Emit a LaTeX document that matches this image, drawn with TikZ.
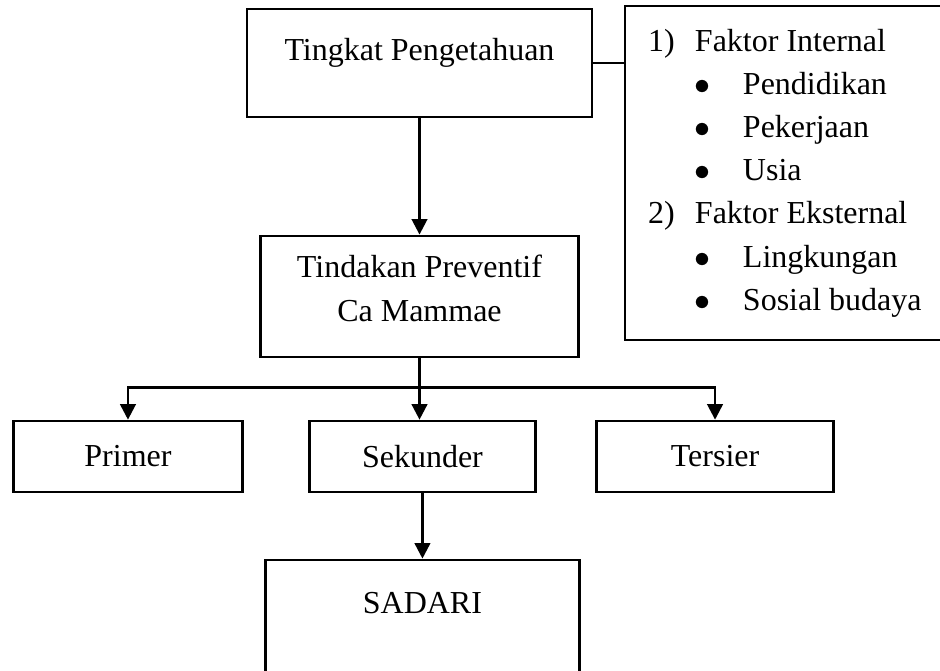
\documentclass[tikz,border=0pt]{standalone}
\usepackage{fontspec}
\setmainfont{Liberation Serif}
\usetikzlibrary{arrows.meta, positioning}

\begin{document}
\begin{tikzpicture}[
  x=0.375pt, y=-0.375pt,
  box/.style={rectangle, draw, line width=1pt, inner sep=0pt, align=center,
              font=\fontsize{12}{16.2}\selectfont},
  arr/.style={-{Triangle[length=5.8pt, width=5.8pt]}, line width=0.95pt},
  link/.style={line width=0.4pt}
]
  \useasboundingbox (0,0) rectangle (940,670);
  \clip (0,0) rectangle (940,670);

  % Top -- knowledge level
  \node[box, minimum width=129.4pt, text height=19.5pt, text depth=21pt] (know) at (419.5,63) {Tingkat Pengetahuan};

  % Right -- influencing factors
  \node[box, align=flush left, text width=108.4pt, inner xsep=8.6pt, minimum height=125.25pt,
        right=11.4pt of know.north east, anchor=north west, yshift=1.1pt] (faktor) {%
    \makebox[17.6pt][l]{1)}Faktor Internal\\
    \hspace*{17.6pt}\makebox[18pt][l]{$\bullet$}Pendidikan\\
    \hspace*{17.6pt}\makebox[18pt][l]{$\bullet$}Pekerjaan\\
    \hspace*{17.6pt}\makebox[18pt][l]{$\bullet$}Usia\\
    \makebox[17.6pt][l]{2)}Faktor Eksternal\\
    \hspace*{17.6pt}\makebox[18pt][l]{$\bullet$}Lingkungan\\
    \hspace*{17.6pt}\makebox[18pt][l]{$\bullet$}Sosial budaya\\[1.5pt]};

  % Middle -- preventive action
  \node[box, minimum width=119.25pt, text height=31.9pt, text depth=13.5pt, below=43.6pt of know] (prev) {Tindakan Preventif\\Ca Mammae};

  % Row -- prevention levels
  \node[box, minimum width=84.75pt, minimum height=26.6pt, below=23pt of prev, xshift=1.1pt] (sekunder) {Sekunder};
  \node[box, minimum width=85.9pt, minimum height=26.6pt, left=24.1pt of sekunder] (primer) {Primer};
  \node[box, minimum width=88.9pt, minimum height=26.6pt, right=21.9pt of sekunder] (tersier) {Tersier};

  % Bottom -- breast self-examination
  \node[box, minimum width=117.75pt, text height=19.9pt, text depth=32.6pt, below=24.5pt of sekunder] (sadari) {SADARI};

  \coordinate (split) at ([yshift=-10.9pt]prev.south);

  \draw[link] (know.east) -- (know.east -| faktor.west);
  \draw[arr] (know.south) -- (prev.north);
  \draw[arr] (prev.south) -- (prev.south |- sekunder.north);
  \draw[arr] (split) -| (primer.north);
  \draw[arr] (split) -| (tersier.north);
  \draw[arr] (sekunder) -- (sadari);
\end{tikzpicture}
\end{document}
